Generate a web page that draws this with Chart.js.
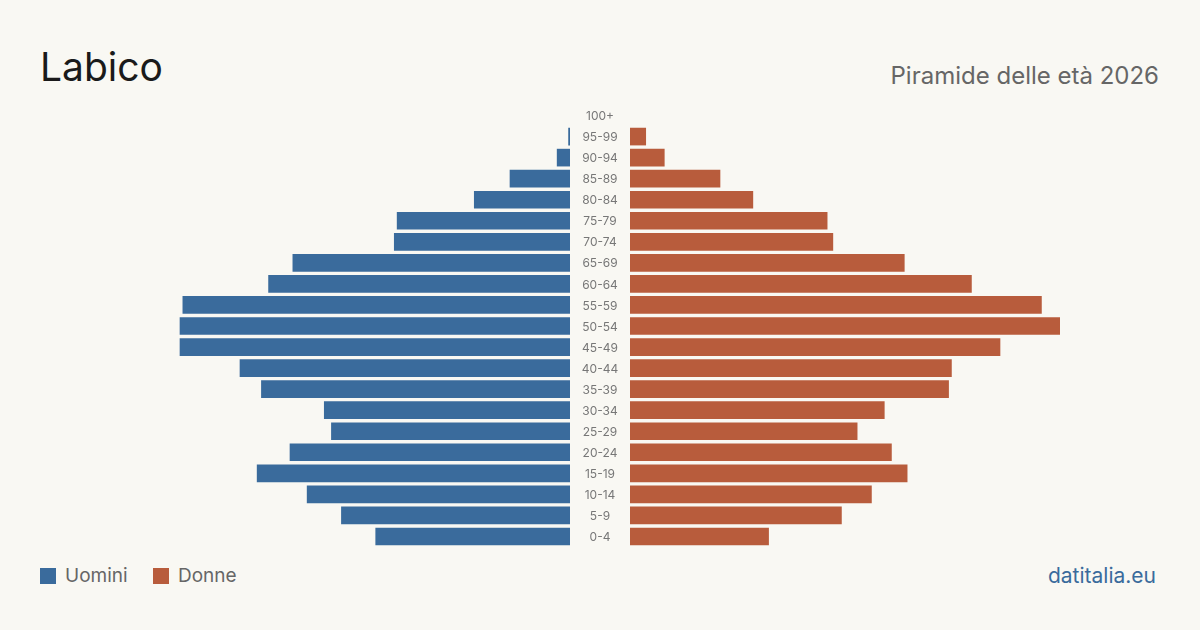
<!DOCTYPE html>
<html>
<head>
<meta charset="utf-8">
<script src="https://cdn.jsdelivr.net/npm/chart.js@4/dist/chart.umd.min.js"></script>
<style>
  html, body { margin: 0; padding: 0; }
  body { width: 1200px; height: 630px; background: #f9f8f3; position: relative; overflow: hidden; font-family: Inter, "Noto Sans", sans-serif; }
  #title { position: absolute; left: 40px; top: 43px; font-size: 39px; color: #1a1a1a; line-height: 48px; }
  #subtitle { position: absolute; right: 41px; top: 60px; font-size: 24px; color: #666; line-height: 32px; }
  #leftWrap { position: absolute; left: 140px; top: 105px; width: 430px; height: 442px; }
  #rightWrap { position: absolute; left: 570px; top: 105px; width: 490px; height: 442px; }
  .legend { position: absolute; top: 564px; font-size: 19px; color: #666; line-height: 24px; }
  .legend span.sw { display: inline-block; width: 16px; height: 16px; vertical-align: -2px; margin-right: 9px; }
  #source { position: absolute; right: 44px; top: 562px; font-size: 21px; color: #3a6b9c; line-height: 28px; }
</style>
</head>
<body>
<div id="title">Labico</div>
<div id="subtitle">Piramide delle età 2026</div>
<div id="leftWrap"><canvas id="menChart"></canvas></div>
<div id="rightWrap"><canvas id="womenChart"></canvas></div>
<div class="legend" style="left:40px"><span class="sw" style="background:#3a6b9c"></span>Uomini</div>
<div class="legend" style="left:153px"><span class="sw" style="background:#b85c3c"></span>Donne</div>
<div id="source">datitalia.eu</div>

<script>
const ages = ['0-4', '5-9', '10-14', '15-19', '20-24', '25-29', '30-34', '35-39', '40-44', '45-49',
  '50-54', '55-59', '60-64', '65-69', '70-74', '75-79', '80-84', '85-89', '90-94', '95-99', '100+'];
const men = [136, 160, 184, 219, 196, 167, 172, 216, 231, 273, 273, 271, 211, 194, 123, 121, 67, 42, 9, 1, 0];
const women = [97, 148, 169, 194, 183, 159, 178, 223, 225, 259, 301, 288, 239, 192, 142, 138, 86, 63, 24, 11, 0];

const blue = '#3a6b9c';
const orange = '#b85c3c';
const maxVal = Math.max(...men, ...women);

function colorFor(c) {
  return ctx => (ctx.raw > 0 ? c : 'rgba(0,0,0,0)');
}

function baseOptions(reverse) {
  return {
    indexAxis: 'y',
    responsive: true,
    maintainAspectRatio: false,
    animation: false,
    layout: { padding: 0 },
    plugins: { legend: { display: false }, tooltip: { enabled: false } },
    scales: {
      x: { display: false, min: 0, max: maxVal, reverse: reverse },
      y: { reverse: true, display: false, grid: { display: false } }
    }
  };
}

// age labels in the gap between the two halves, placed by the y scale
const ageLabels = {
  id: 'ageLabels',
  afterDraw(chart) {
    const ctx = chart.ctx;
    const y = chart.scales.y;
    ctx.save();
    ctx.fillStyle = '#777';
    ctx.font = '12px Inter, "Noto Sans", sans-serif';
    ctx.textAlign = 'center';
    ctx.textBaseline = 'middle';
    chart.data.labels.forEach((lab, i) => {
      ctx.fillText(lab, chart.chartArea.left - 30, y.getPixelForValue(i) + 1);
    });
    ctx.restore();
  }
};

new Chart(document.getElementById('menChart'), {
  type: 'bar',
  data: {
    labels: ages,
    datasets: [{ label: 'Uomini', data: men, backgroundColor: colorFor(blue), barThickness: 17, borderWidth: 0 }]
  },
  options: baseOptions(true)
});

const womenOpts = baseOptions(false);
womenOpts.layout = { padding: { left: 60 } };

new Chart(document.getElementById('womenChart'), {
  type: 'bar',
  data: {
    labels: ages,
    datasets: [{ label: 'Donne', data: women, backgroundColor: colorFor(orange), barThickness: 17, borderWidth: 0 }]
  },
  options: womenOpts,
  plugins: [ageLabels]
});
</script>
</body>
</html>
